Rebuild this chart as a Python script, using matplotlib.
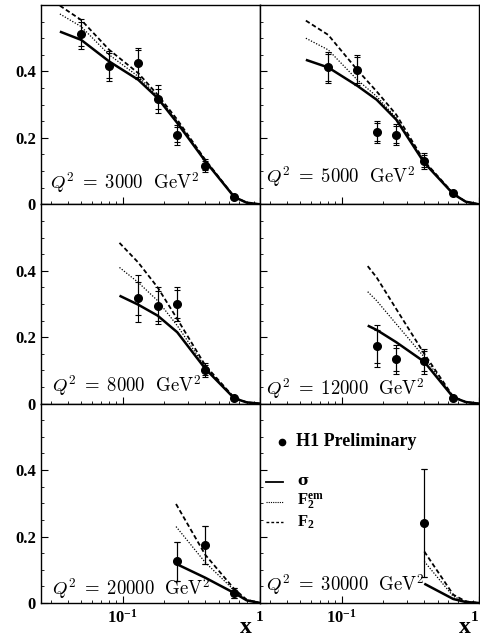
import numpy as np
import matplotlib
matplotlib.use('Agg')
import matplotlib.pyplot as plt
from matplotlib.ticker import MultipleLocator, NullFormatter, FixedLocator

plt.rcParams['font.family'] = 'Liberation Serif'
plt.rcParams['font.weight'] = 'bold'
plt.rcParams['mathtext.fontset'] = 'custom'
plt.rcParams['mathtext.rm'] = 'Liberation Serif:bold'
plt.rcParams['mathtext.bf'] = 'Liberation Serif:bold'
plt.rcParams['mathtext.it'] = 'Liberation Serif:bold:italic'

# Q2 bins
q2_labels = ['3000', '5000', '8000', '12000', '20000', '30000']

# H1 preliminary points: x, reduced cross section, total error, stat error
x_pts = [
    [0.05, 0.08, 0.13, 0.18, 0.25, 0.4, 0.65],
    [0.08, 0.13, 0.18, 0.25, 0.4, 0.65],
    [0.13, 0.18, 0.25, 0.4, 0.65],
    [0.18, 0.25, 0.4, 0.65],
    [0.25, 0.4, 0.65],
    [0.4],
]
y_pts = [
    [0.513, 0.417, 0.424, 0.316, 0.21, 0.116, 0.023],
    [0.412, 0.404, 0.218, 0.21, 0.131, 0.033],
    [0.317, 0.295, 0.300, 0.101, 0.016],
    [0.173, 0.133, 0.128, 0.018],
    [0.125, 0.175, 0.031],
    [0.24],
]
err_tot = [
    [0.045, 0.045, 0.047, 0.042, 0.03, 0.02, 0.006],
    [0.048, 0.046, 0.032, 0.031, 0.024, 0.006],
    [0.07, 0.055, 0.05, 0.022, 0.005],
    [0.064, 0.045, 0.038, 0.005],
    [0.058, 0.058, 0.015],
    [0.163],
]
err_stat = [
    [0.035, 0.038, 0.04, 0.03, 0.022, 0.014, 0.004],
    [0.04, 0.038, 0.026, 0.025, 0.018, 0.004],
    [0.05, 0.045, 0.042, 0.016, 0.003],
    [0.05, 0.035, 0.03, 0.003],
    [0.058, 0.058, 0.015],
    [0.163],
]

# theory curves: sigma, F2 em, F2
x_th = [
    [0.035, 0.05, 0.08, 0.13, 0.18, 0.25, 0.4, 0.65, 0.8, 1.0],
    [0.055, 0.08, 0.13, 0.18, 0.25, 0.4, 0.65, 0.8, 1.0],
    [0.095, 0.13, 0.18, 0.25, 0.4, 0.65, 0.8, 1.0],
    [0.155, 0.18, 0.25, 0.4, 0.65, 0.8, 1.0],
    [0.245, 0.4, 0.65, 0.8, 1.0],
    [0.4, 0.65, 0.8, 1.0],
]
sigma = [
    [0.52, 0.495, 0.43, 0.375, 0.32, 0.245, 0.13, 0.022, 0.005, 0.0],
    [0.435, 0.412, 0.357, 0.315, 0.255, 0.125, 0.031, 0.008, 0.0],
    [0.325, 0.298, 0.265, 0.215, 0.105, 0.016, 0.004, 0.0],
    [0.235, 0.222, 0.185, 0.126, 0.019, 0.005, 0.0],
    [0.118, 0.076, 0.03, 0.008, 0.0],
    [0.058, 0.012, 0.003, 0.0],
]
f2em = [
    [0.573, 0.535, 0.45, 0.385, 0.325, 0.25, 0.132, 0.022, 0.005, 0.0],
    [0.50, 0.465, 0.375, 0.325, 0.26, 0.127, 0.032, 0.008, 0.0],
    [0.41, 0.365, 0.31, 0.235, 0.11, 0.017, 0.004, 0.0],
    [0.337, 0.31, 0.24, 0.14, 0.02, 0.005, 0.0],
    [0.23, 0.122, 0.038, 0.009, 0.0],
    [0.125, 0.02, 0.004, 0.0],
]
f2 = [
    [0.598, 0.555, 0.465, 0.395, 0.33, 0.255, 0.134, 0.023, 0.005, 0.0],
    [0.553, 0.51, 0.405, 0.34, 0.27, 0.13, 0.033, 0.008, 0.0],
    [0.484, 0.425, 0.35, 0.255, 0.115, 0.018, 0.004, 0.0],
    [0.414, 0.38, 0.285, 0.15, 0.021, 0.005, 0.0],
    [0.298, 0.145, 0.042, 0.01, 0.0],
    [0.155, 0.025, 0.005, 0.0],
]

# label placement (axes fraction) for the Q2 text
lab_pos = [(0.041, 0.076), (0.027, 0.105), (0.049, 0.058),
           (0.027, 0.044), (0.049, 0.039), (0.027, 0.059)]

fig, axes = plt.subplots(3, 2, figsize=(4.81, 6.41), dpi=100)
plt.subplots_adjust(left=0.0852, right=0.9958, top=0.9922, bottom=0.0593,
                    hspace=0, wspace=0)

for i, ax in enumerate(axes.flat):
    ax.plot(x_th[i], sigma[i], color='black', lw=1.8, solid_capstyle='butt')
    ax.plot(x_th[i], f2em[i], color='black', lw=0.9, dashes=(1, 1.3))
    ax.plot(x_th[i], f2[i], color='black', lw=1.3, dashes=(2.5, 1.5))
    ax.errorbar(x_pts[i], y_pts[i], yerr=err_tot[i], fmt='o', color='black',
                ms=5.5, lw=0.8, capsize=2.5, capthick=0.8)
    ax.errorbar(x_pts[i], y_pts[i], yerr=err_stat[i], fmt='none', color='black',
                lw=0.8, capsize=2.5, capthick=0.8)
    ax.text(lab_pos[i][0], lab_pos[i][1],
            r'$Q^2\;=\;%s\ \ \mathrm{GeV}^2$' % q2_labels[i],
            transform=ax.transAxes, fontsize=13.5, va='baseline', ha='left',
            math_fontfamily='cm')

    ax.set_xscale('log')
    ax.set_xlim(0.0255, 1.0)
    ax.set_ylim(0, 0.6)
    ax.yaxis.set_major_locator(FixedLocator([0, 0.2, 0.4]))
    ax.yaxis.set_minor_locator(MultipleLocator(0.05))
    ax.xaxis.set_minor_formatter(NullFormatter())
    ax.tick_params(which='both', direction='in', top=False, right=False,
                   labelsize=12)
    ax.tick_params(which='major', length=5, width=0.8)
    ax.tick_params(which='minor', length=2.5, width=0.6)
    for s in ax.spines.values():
        s.set_linewidth(1.0)

    if i % 2 == 0:
        ax.set_yticklabels(['0', '0.2', '0.4'])
    else:
        ax.set_yticklabels([])
    ax.set_xticks([0.1, 1.0])
    if i < 4:
        ax.set_xticklabels([])
    else:
        ax.set_xticklabels([r'$\mathbf{10^{-1}}$', ''])
        ax.tick_params(axis='x', which='major', pad=4)
        ax.text(0.962, -0.125, 'x', transform=ax.transAxes, fontsize=17,
                ha='right', va='center', fontweight='bold')
        ax.text(0.998 if i == 5 else 1.0, -0.075, '1', transform=ax.transAxes,
                fontsize=11, ha='right' if i == 5 else 'center', va='center',
                fontweight='bold')

# legend in last panel
ax = axes[2, 1]
ax.plot([0.10], [0.81], 'o', color='black', ms=4.5, transform=ax.transAxes,
        clip_on=False)
ax.text(0.164, 0.81, 'H1 Preliminary', transform=ax.transAxes, fontsize=13,
        fontweight='bold', va='center', ha='left')
ax.plot([0.027, 0.105], [0.608, 0.608], color='black', lw=1.3,
        transform=ax.transAxes, clip_on=False)
ax.plot([0.027, 0.105], [0.506, 0.506], color='black', lw=0.8, dashes=(1, 1),
        transform=ax.transAxes, clip_on=False)
ax.plot([0.027, 0.105], [0.405, 0.405], color='black', lw=1.0, dashes=(2, 1.5),
        transform=ax.transAxes, clip_on=False)
ax.text(0.17, 0.61, 'σ', transform=ax.transAxes, fontsize=11,
        va='center', ha='left', family='DejaVu Serif', fontweight='bold')
ax.text(0.17, 0.506, r'$\mathbf{F_2^{em}}$', transform=ax.transAxes, fontsize=12,
        va='center', ha='left')
ax.text(0.17, 0.405, r'$\mathbf{F_2}$', transform=ax.transAxes, fontsize=12,
        va='center', ha='left')

plt.savefig('out.png', dpi=100)
